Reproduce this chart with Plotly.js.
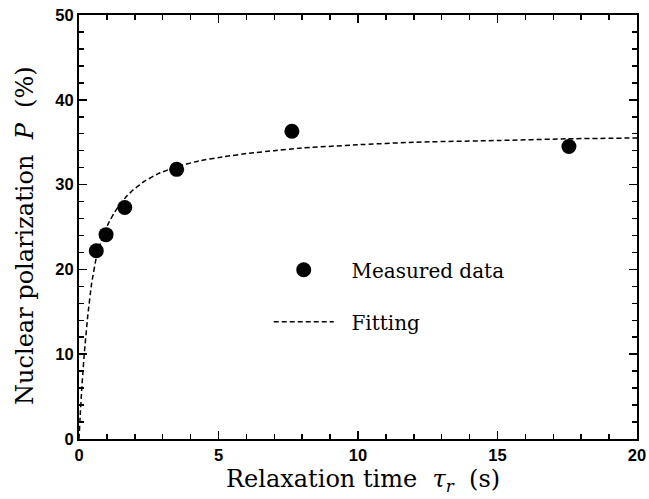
<!DOCTYPE html>
<html>
<head>
<meta charset="utf-8">
<script src="https://cdn.plot.ly/plotly-3.0.1.min.js"></script>
<style>html,body{margin:0;padding:0;background:#fff}#chart{width:649px;height:499px}</style>
</head>
<body>
<div id="chart"></div>
<script>
// Measured data
var measuredTau = [0.62, 0.97, 1.64, 3.5, 7.63, 17.56];
var measuredP = [22.2, 24.1, 27.3, 31.8, 36.3, 34.5];
// Fitting curve
var fitTau = [0, 0.04, 0.1, 0.19, 0.31, 0.45, 0.62, 0.84, 1.05, 1.25, 1.45, 1.7, 1.95, 2.35, 2.84, 3.5, 4.3, 5.2, 6.1, 7.0, 7.9, 10, 12, 15, 17.5, 20];
var fitP = [0, 2.6, 6.0, 10.1, 14.4, 18.3, 21.4, 23.8, 25.4, 26.6, 27.6, 28.6, 29.4, 30.4, 31.3, 32.1, 32.8, 33.3, 33.7, 34.0, 34.3, 34.7, 35.0, 35.2, 35.4, 35.5];
// Tick labels
var xTickVals = [0, 5, 10, 15, 20];
var xTickText = ['0', '5', '10', '15', '20'];
var yTickVals = [0, 10, 20, 30, 40, 50];
var yTickText = ['0', '10', '20', '30', '40', '50'];
// Titles
var xTitle = 'Relaxation time\u00A0\u00A0<i>τ<sub>r</sub></i>\u00A0\u00A0(s)';
var yTitle = 'Nuclear polarization\u00A0\u00A0<i>P</i>\u00A0\u00A0(%)';

var serif = 'DejaVu Serif, Liberation Serif, serif';
var sansBold = 'Liberation Sans, Arial, sans-serif';
var sp = '\u00A0\u00A0';

var traces = [
  {x: measuredTau, y: measuredP, mode: 'markers', type: 'scatter', name: sp + 'Measured data',
   legendgroup: 'a',
   marker: {color: '#000', size: 15}},
  {x: fitTau, y: fitP, mode: 'lines', type: 'scatter', name: sp + 'Fitting',
   legendgroup: 'b',
   line: {color: '#000', width: 1.5, dash: '5px,3px', shape: 'spline', smoothing: 0.3}}
];

function bold(a) { return a.map(function (t) { return '<b>' + t + '</b>'; }); }

var axisCommon = {
  showline: true, linecolor: '#000', linewidth: 2, mirror: 'ticks',
  ticks: 'inside', ticklen: 8, tickwidth: 1.5, tickcolor: '#000',
  showgrid: false, zeroline: false, automargin: false,
  tickfont: {family: sansBold, size: 16.5, color: '#000', weight: 'bold'}
};

var layout = {
  width: 649, height: 499,
  margin: {l: 79, r: 12, t: 15, b: 60},
  paper_bgcolor: '#fff', plot_bgcolor: '#fff',
  showlegend: true,
  legend: {x: 0.34, y: 0.445, xanchor: 'left', yanchor: 'top', bgcolor: 'rgba(0,0,0,0)',
    font: {family: serif, size: 20, color: '#000'}, tracegroupgap: 23, itemwidth: 60},
  xaxis: Object.assign({}, axisCommon, {
    range: [0, 20], tickvals: xTickVals, ticktext: bold(xTickText),
    minor: {dtick: 1, ticks: 'inside', ticklen: 5, tickwidth: 1.5, tickcolor: '#000', showgrid: false}
  }),
  yaxis: Object.assign({}, axisCommon, {
    range: [0, 50], tickvals: yTickVals, ticktext: bold(yTickText),
    minor: {dtick: 2, ticks: 'inside', ticklen: 5, tickwidth: 1.5, tickcolor: '#000', showgrid: false}
  }),
  annotations: [
    {text: xTitle, xref: 'paper', yref: 'paper', x: 0.5085, y: -0.098, xanchor: 'center', yanchor: 'middle',
     showarrow: false, font: {family: serif, size: 24, color: '#000'}},
    {text: yTitle, xref: 'paper', yref: 'paper', x: -0.096, y: 0.48, xanchor: 'center', yanchor: 'middle',
     textangle: -90, showarrow: false, font: {family: serif, size: 24, color: '#000'}}
  ]
};

Plotly.newPlot('chart', traces, layout, {displayModeBar: false, staticPlot: true});
</script>
</body>
</html>
